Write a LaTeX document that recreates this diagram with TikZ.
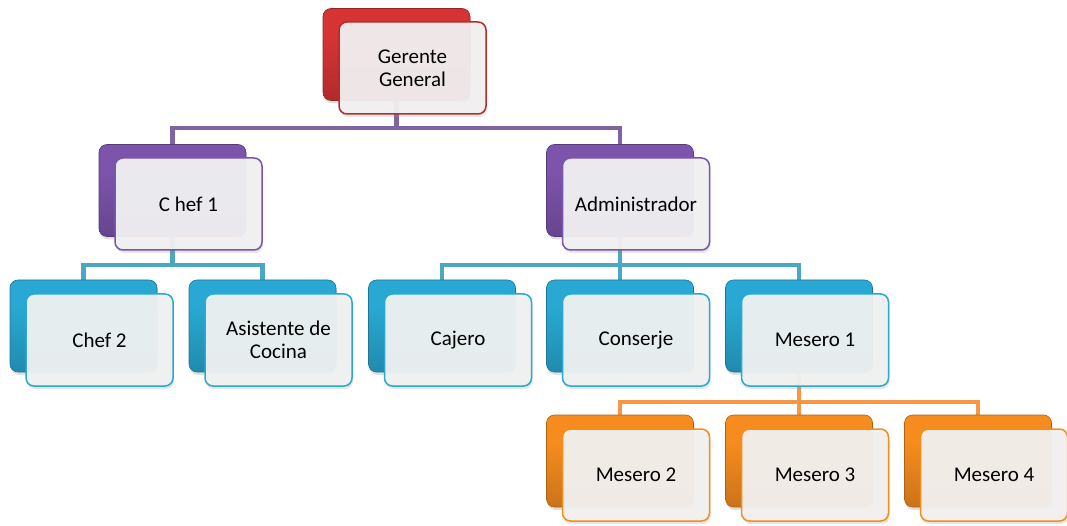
\documentclass[tikz,border=0pt]{standalone}
\usepackage{fontspec}
\setmainfont{Carlito}
\usetikzlibrary{shadows}
\definecolor{redC}{RGB}{214,52,52}
\definecolor{purpC}{RGB}{124,84,172}
\definecolor{cyanC}{RGB}{40,168,210}
\definecolor{orgC}{RGB}{246,140,30}
\definecolor{purpL}{RGB}{128,100,162}
\definecolor{cyanL}{RGB}{75,168,196}
\definecolor{orgL}{RGB}{247,150,70}
\foreach \c in {redC,purpC,cyanC,orgC}{
  \pgfdeclareverticalshading{gloss-\c}{100bp}{color(0bp)=(\c!65!black); color(30bp)=(\c!85!black); color(60bp)=(\c); color(86bp)=(\c); color(94bp)=(\c!70!white); color(100bp)=(\c!55!white)}
}
\tikzset{
  backbox/.style={rounded corners=8pt, minimum width=147pt, minimum height=92pt,
    draw=#1!70!black, line width=0.6pt, shading=gloss-#1,
    drop shadow={opacity=0.25, shadow xshift=1pt, shadow yshift=-3pt}},
  frontbox/.style={rounded corners=8pt, minimum width=147pt, minimum height=92pt,
    draw=#1, line width=1.5pt, fill=#1!20!black!6!white, fill opacity=0.95, text opacity=1,
    align=center, font=\fontsize{21}{23}\selectfont,
    drop shadow={opacity=0.2, shadow xshift=1pt, shadow yshift=-3pt}},
  conn/.style={draw=#1, line width=4.5pt}
}
\begin{document}
\begin{tikzpicture}[x=1pt,y=-1pt]
\useasboundingbox (0,0) rectangle (1067,526);
\coordinate (bus1) at (0,128);
\coordinate (bus2) at (0,265);
\coordinate (bus3) at (0,402);
\path (396.5,54.5) coordinate (gerP)
      (172.5,190.5) coordinate (chef1P)
      (620,190.5) coordinate (admP)
      (83.5,326) coordinate (chef2P)
      (262.5,326) coordinate (asisP)
      (442,326) coordinate (cajP)
      (620,326) coordinate (consP)
      (799,326) coordinate (mes1P)
      (620,461) coordinate (mes2P)
      (799,461) coordinate (mes3P)
      (978,461) coordinate (mes4P);
% connectors
\draw[conn=purpL] (gerP) -- (gerP |- bus1) -| (chef1P);
\draw[conn=purpL] (gerP) -- (gerP |- bus1) -| (admP);
\draw[conn=cyanL] (chef1P) -- (chef1P |- bus2) -| (chef2P);
\draw[conn=cyanL] (chef1P) -- (chef1P |- bus2) -| (asisP);
\draw[conn=cyanL] (admP) -- (admP |- bus2) -| (cajP);
\draw[conn=cyanL] (admP) -- (admP |- bus2) -| (consP);
\draw[conn=cyanL] (admP) -- (admP |- bus2) -| (mes1P);
\draw[conn=orgL] (mes1P) -- (mes1P |- bus3) -| (mes2P);
\draw[conn=orgL] (mes1P) -- (mes1P |- bus3) -| (mes3P);
\draw[conn=orgL] (mes1P) -- (mes1P |- bus3) -| (mes4P);
% back boxes
\node[backbox=redC] (gerB) at (gerP) {};
\node[backbox=purpC] (chef1B) at (chef1P) {};
\node[backbox=purpC] (admB) at (admP) {};
\node[backbox=cyanC] (chef2B) at (chef2P) {};
\node[backbox=cyanC] (asisB) at (asisP) {};
\node[backbox=cyanC] (cajB) at (cajP) {};
\node[backbox=cyanC] (consB) at (consP) {};
\node[backbox=cyanC] (mes1B) at (mes1P) {};
\node[backbox=orgC] (mes2B) at (mes2P) {};
\node[backbox=orgC] (mes3B) at (mes3P) {};
\node[backbox=orgC] (mes4B) at (mes4P) {};
% front boxes
\node[frontbox=redC!85!black] (ger) at ([xshift=16pt,yshift=-13.5pt]gerB.center) {Gerente\\General};
\node[frontbox=purpC] (chef1) at ([xshift=16pt,yshift=-13.5pt]chef1B.center) {C hef 1};
\node[frontbox=purpC] (adm) at ([xshift=16pt,yshift=-13.5pt]admB.center) {Administrador};
\node[frontbox=cyanC] (chef2) at ([xshift=16pt,yshift=-14pt]chef2B.center) {Chef 2};
\node[frontbox=cyanC] (asis) at ([xshift=16pt,yshift=-14pt]asisB.center) {Asistente de\\Cocina};
\node[frontbox=cyanC] (caj) at ([xshift=16pt,yshift=-14pt]cajB.center) {Cajero};
\node[frontbox=cyanC] (cons) at ([xshift=16pt,yshift=-14pt]consB.center) {Conserje};
\node[frontbox=cyanC] (mes1) at ([xshift=16pt,yshift=-14pt]mes1B.center) {Mesero 1};
\node[frontbox=orgC] (mes2) at ([xshift=16pt,yshift=-14pt]mes2B.center) {Mesero 2};
\node[frontbox=orgC] (mes3) at ([xshift=16pt,yshift=-14pt]mes3B.center) {Mesero 3};
\node[frontbox=orgC] (mes4) at ([xshift=16pt,yshift=-14pt]mes4B.center) {Mesero 4};
\end{tikzpicture}
\end{document}
